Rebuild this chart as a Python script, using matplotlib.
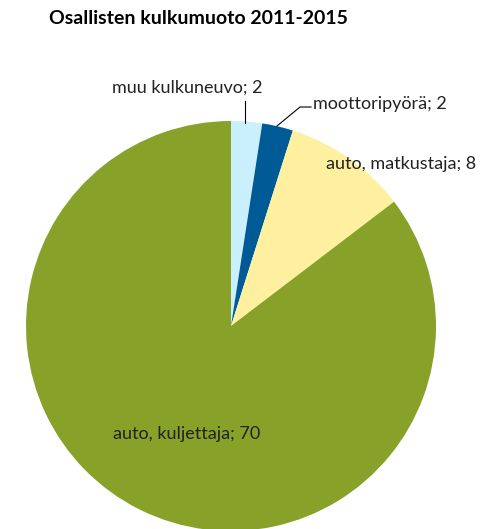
import matplotlib
matplotlib.use('Agg')
import matplotlib.pyplot as plt

# Osallisten kulkumuoto 2011-2015
kulkumuodot = ['muu kulkuneuvo', 'moottoripyörä', 'auto, matkustaja', 'auto, kuljettaja']
maarat = [2, 2, 8, 70]
varit = ['#C9F0FC', '#005A96', '#FFF09F', '#88A128']

plt.rcParams['font.family'] = ['Lato', 'DejaVu Sans']

fig = plt.figure(figsize=(4.82, 5.29), dpi=100)
ax = fig.add_axes([0, 0, 1, 1])

wedges, _ = ax.pie(maarat, colors=varit, startangle=90, counterclock=False,
                   center=(231, 203), radius=205, frame=True,
                   wedgeprops=dict(linewidth=0))
ax.set_xlim(0, 482)
ax.set_ylim(0, 529)
ax.set_aspect('equal')
ax.axis('off')

fig.text(198 / 482, 1 - 18 / 529, 'Osallisten kulkumuoto 2011-2015',
         fontsize=14, fontweight='bold', ha='center', va='center')

# tekstit
tekstit = [f'{k}; {m}' for k, m in zip(kulkumuodot, maarat)]
fs = 13
ax.text(187, 529 - 88, tekstit[0], fontsize=fs, ha='center', va='center', color='#222222')
ax.text(313, 529 - 104, tekstit[1], fontsize=fs, ha='left', va='center', color='#222222')
ax.text(401, 529 - 164, tekstit[2], fontsize=fs, ha='center', va='center', color='#222222')
ax.text(187, 529 - 434, tekstit[3], fontsize=fs, ha='center', va='center', color='#222222')

# viivat
ax.plot([245, 245], [529 - 101, 529 - 123], color='black', lw=0.8)
ax.plot([277, 300, 311], [529 - 126, 529 - 107, 529 - 107], color='black', lw=0.8)

fig.savefig('out.png', dpi=100)
